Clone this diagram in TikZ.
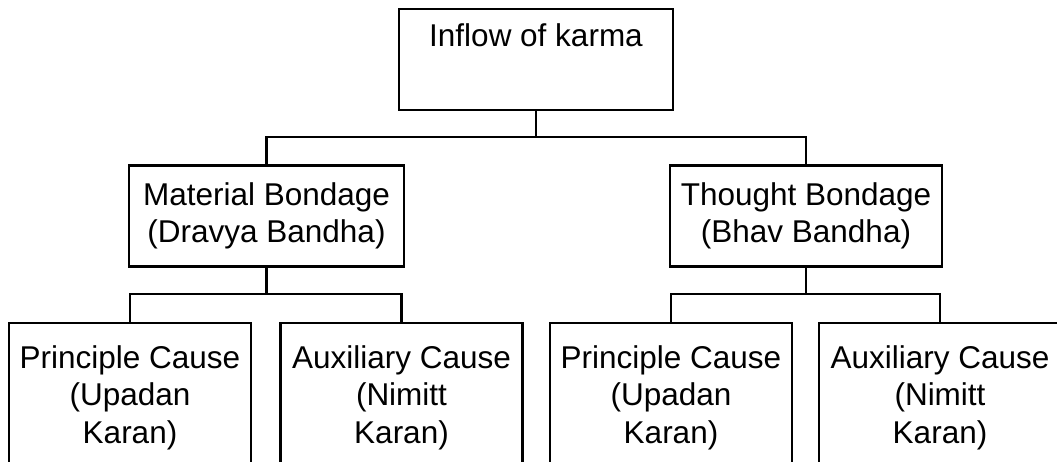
\documentclass[tikz,border=0pt]{standalone}
\usepackage{fontspec}
\setmainfont{Liberation Sans}
\usepackage{tikz}
\usetikzlibrary{positioning,calc}

\tikzset{
    box/.style={draw,line width=2.2pt,align=center,inner sep=0pt,
        font=\fontsize{31.5}{37.5}\selectfont},
    link/.style={line width=2.2pt}
}

\begin{document}
\begin{tikzpicture}[x=1pt,y=-1pt]
        \useasboundingbox (0,0) rectangle (1057,461);
        \clip (0,0) rectangle (1057,461);

        % Top node
        \node[box,minimum width=274,minimum height=101] (inflow) at (536,59.5) {Inflow of karma\\ \strut};

        % Middle nodes
        \node[box,minimum width=275,minimum height=101] (material) at (266.5,216) {Material Bondage\\(Dravya Bandha)};
        \node[box,minimum width=272,minimum height=101] (thought) at (806,216) {Thought Bondage\\(Bhav Bandha)};

        % Bottom nodes (cut off by the lower edge)
        \node[box,anchor=north,minimum width=242,minimum height=149] (mprinc) at (130,322) {Principle Cause\\(Upadan\\Karan)};
        \node[box,anchor=north,minimum width=242,minimum height=149] (maux) at (401.5,322) {Auxiliary Cause\\(Nimitt\\Karan)};
        \node[box,anchor=north,minimum width=242,minimum height=149] (tprinc) at (671,322) {Principle Cause\\(Upadan\\Karan)};
        \node[box,anchor=north,minimum width=242,minimum height=149] (taux) at (940,322) {Auxiliary Cause\\(Nimitt\\Karan)};

        % Junction points
        \coordinate (jtop) at (536,137);
        \coordinate (jmat) at (266.5,294);
        \coordinate (jthou) at (806,294);

        % Links from top node
        \draw[link] (inflow.south) -- (jtop) -| (material.north);
        \draw[link] (jtop) -| (thought.north);

        % Links from middle nodes
        \draw[link] (material.south) -- (jmat) -| (mprinc.north);
        \draw[link] (jmat) -| (maux.north);
        \draw[link] (thought.south) -- (jthou) -| (tprinc.north);
        \draw[link] (jthou) -| (taux.north);
    \end{tikzpicture}
\end{document}
